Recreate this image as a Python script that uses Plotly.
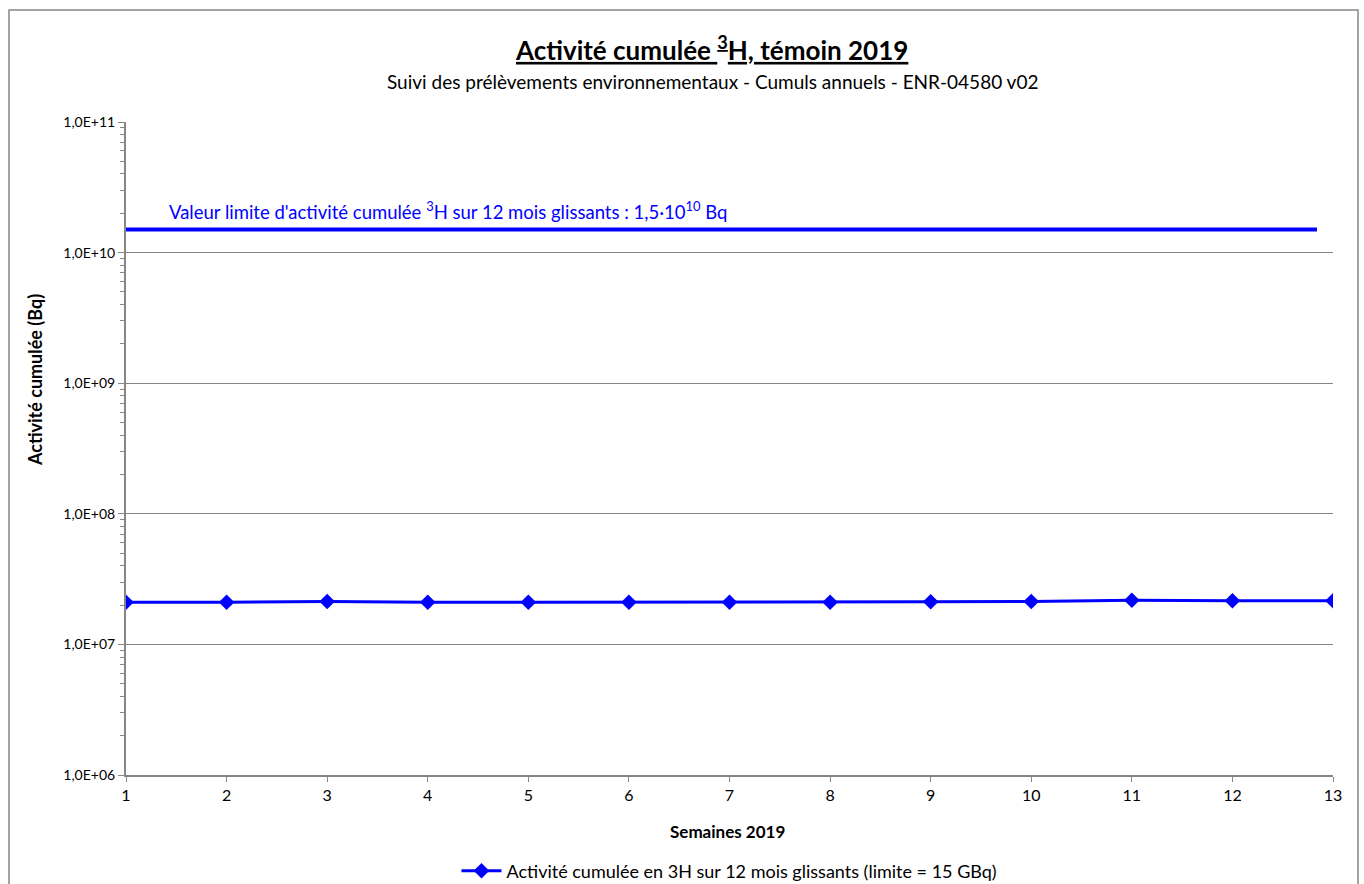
import plotly.graph_objects as go

weeks = [1, 2, 3, 4, 5, 6, 7, 8, 9, 10, 11, 12, 13]
cumulative_activity = [2.10e7, 2.10e7, 2.13e7, 2.10e7, 2.10e7, 2.10e7, 2.10e7,
                       2.10e7, 2.12e7, 2.13e7, 2.18e7, 2.16e7, 2.16e7]
limit_value = 1.5e10
y_tickvals = [1e6, 1e7, 1e8, 1e9, 1e10, 1e11]
y_ticktext = ["1,0E+06", "1,0E+07", "1,0E+08", "1,0E+09", "1,0E+10", "1,0E+11"]
series_name = "Activité cumulée en 3H sur 12 mois glissants (limite = 15 GBq)"

FONT = "Lato, 'Open Sans', sans-serif"
BLUE = "#0000FF"
GRAY = "#868686"

W, H = 1364, 884
PL, PR, PT, PB = 126, 1333, 122, 775  # plot area in page pixels
L, T, R, B = PL, PT, W - PR, H - PB
pw, ph = W - L - R, H - T - B


def px_x(x):
    return (x - L) / pw


def px_y(y):
    return (H - B - y) / ph


fig = go.Figure()
fig.add_trace(go.Scatter(
    x=weeks, y=cumulative_activity, mode="lines+markers", name=series_name,
    line=dict(color=BLUE, width=3),
    marker=dict(symbol="diamond", size=12, color=BLUE),
))

fig.update_layout(
    width=W, height=H,
    margin=dict(l=L, r=R, t=T, b=B),
    paper_bgcolor="white", plot_bgcolor="white",
    font=dict(family=FONT, size=16, color="#000000"),
    showlegend=True,
    legend=dict(orientation="h", x=0.5, xanchor="center",
                yref="container", y=1 - 871 / H, yanchor="middle",
                font=dict(size=18, family=FONT), bgcolor="rgba(0,0,0,0)",
                itemwidth=40),
    xaxis=dict(
        range=[1, 13], tickvals=weeks, ticks="outside", ticklen=5, tickcolor=GRAY,
        showline=True, linecolor=GRAY, linewidth=2, showgrid=False, zeroline=False,
        tickfont=dict(size=16, family=FONT),
    ),
    yaxis=dict(
        type="log", range=[6, 11], tickvals=y_tickvals, ticktext=y_ticktext,
        ticks="outside", ticklen=6, tickcolor=GRAY,
        showline=True, linecolor=GRAY, linewidth=2,
        showgrid=True, gridcolor=GRAY, gridwidth=1, zeroline=False,
        tickfont=dict(size=14, family=FONT),
        minor=dict(ticks="outside", ticklen=4, tickcolor=GRAY, showgrid=False,
                   dtick="D1"),
    ),
)

# limit line
fig.add_shape(type="line", xref="x domain", yref="y", x0=0, x1=px_x(1317),
              y0=limit_value, y1=limit_value, line=dict(color=BLUE, width=4))

annotations = [
    dict(text="<b>Activité cumulée <sup>3</sup>H, témoin 2019</b>",
         x=px_x(711), y=px_y(48), xref="paper", yref="paper",
         showarrow=False, font=dict(size=26, family=FONT, lineposition="under"),
         xanchor="center", yanchor="middle"),
    dict(text="Suivi des prélèvements environnementaux - Cumuls annuels - ENR-04580 v02",
         x=px_x(712), y=px_y(82), xref="paper", yref="paper",
         showarrow=False, font=dict(size=19, family=FONT), xanchor="center", yanchor="middle"),
    dict(text="Valeur limite d'activité cumulée <sup>3</sup>H sur 12 mois glissants : 1,5·10<sup>10</sup> Bq",
         x=px_x(167), y=px_y(210), xref="paper", yref="paper",
         showarrow=False, font=dict(size=18.5, family=FONT, color=BLUE), xanchor="left", yanchor="middle"),
    dict(text="<b>Activité cumulée (Bq)</b>",
         x=px_x(35), y=px_y(380), xref="paper", yref="paper", textangle=-90,
         showarrow=False, font=dict(size=18, family=FONT), xanchor="center", yanchor="middle"),
    dict(text="<b>Semaines 2019</b>",
         x=px_x(727), y=px_y(831), xref="paper", yref="paper",
         showarrow=False, font=dict(size=17, family=FONT), xanchor="center", yanchor="middle"),
]
fig.update_layout(annotations=annotations)

# outer chart border
fig.add_shape(type="rect", xref="paper", yref="paper",
              x0=px_x(9), x1=px_x(1358), y0=px_y(10), y1=px_y(900),
              line=dict(color=GRAY, width=1.5), fillcolor="rgba(0,0,0,0)", layer="below")

fig.write_html("out.html", config={"displayModeBar": False},
               post_script="document.body.style.margin='0';document.body.style.overflow='hidden';")
